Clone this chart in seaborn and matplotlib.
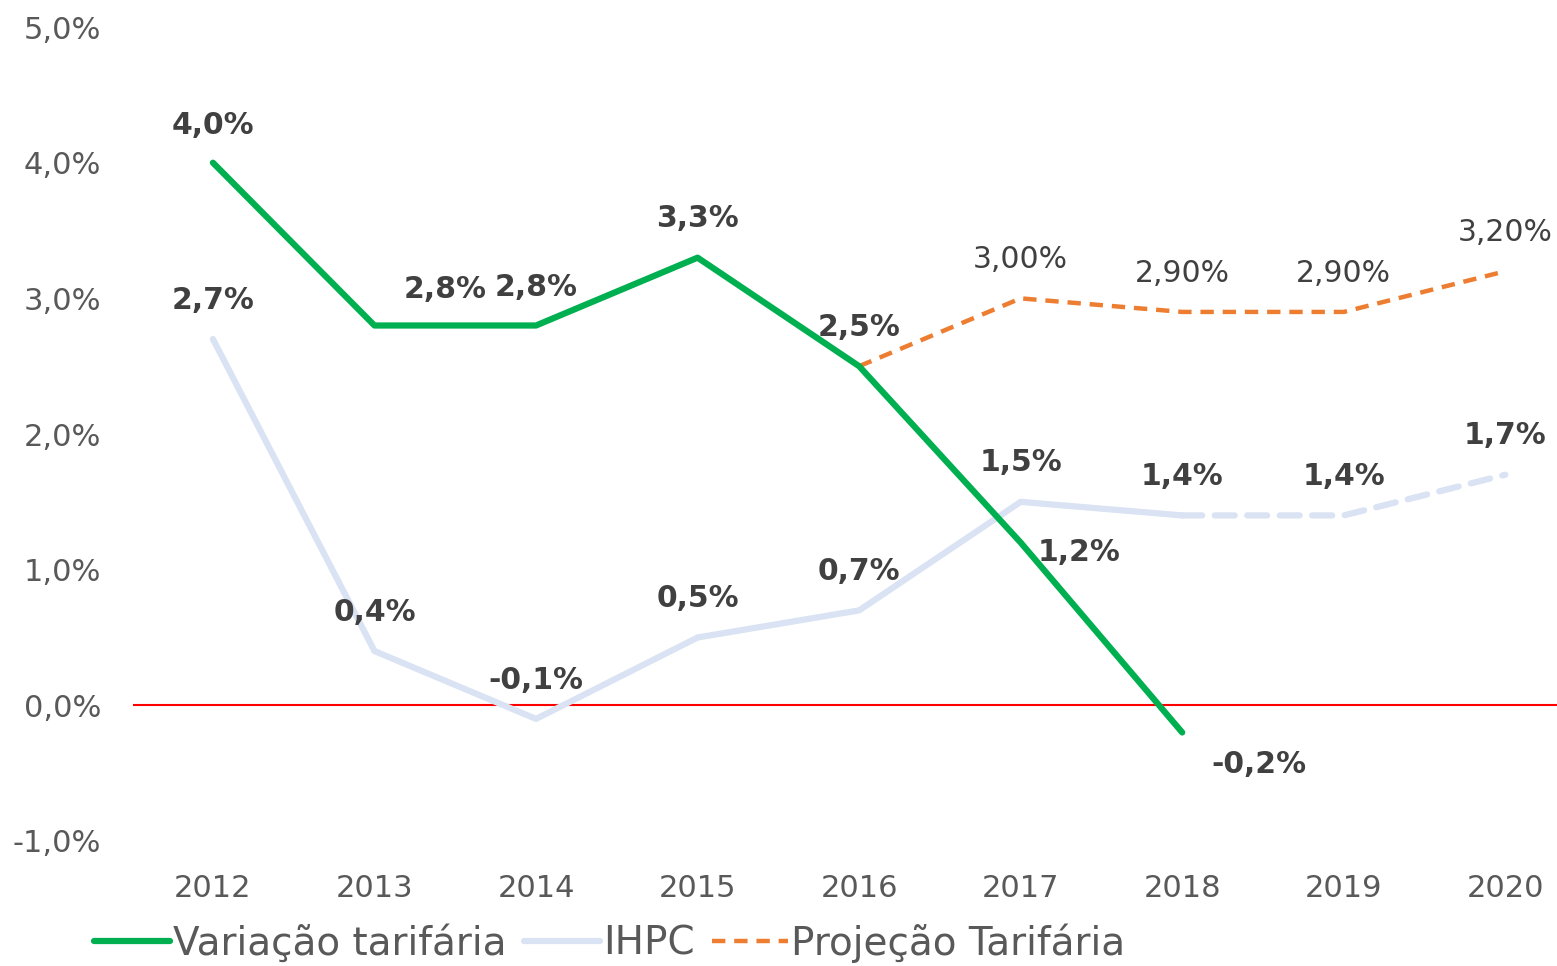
import matplotlib
matplotlib.use("Agg")
import matplotlib.pyplot as plt
import seaborn as sns
import pandas as pd
from matplotlib.lines import Line2D

# data
anos = [2012, 2013, 2014, 2015, 2016, 2017, 2018, 2019, 2020]
variacao = [4.0, 2.8, 2.8, 3.3, 2.5, 1.2, -0.2]            # 2012-2018
ihpc = [2.7, 0.4, -0.1, 0.5, 0.7, 1.5, 1.4, 1.4, 1.7]      # 2019-2020 are projected
projecao_anos = [2016, 2017, 2018, 2019, 2020]
projecao = [2.5, 3.00, 2.90, 2.90, 3.20]
y_ticks = [-1, 0, 1, 2, 3, 4, 5]

verde = "#00B050"
azul_claro = "#DAE3F3"
laranja = "#ED7D31"
texto = "#404040"
eixo = "#595959"

sns.set_style("white")
plt.rcParams["font.family"] = ["DejaVu Sans"]

df_var = pd.DataFrame({"x": list(range(len(variacao))), "y": variacao})
df_ihpc = pd.DataFrame({"x": list(range(len(ihpc))), "y": ihpc})
df_proj = pd.DataFrame({"x": [anos.index(a) for a in projecao_anos], "y": projecao})

fig = plt.figure(figsize=(15.57, 9.66), dpi=100)
ax = fig.add_axes([0.0854, 0.1294, 0.9146, 0.8426])

ax.axhline(0, color="red", lw=1.5, zorder=1)

# IHPC: solid up to 2018, dashed projection afterwards
sns.lineplot(data=df_ihpc.iloc[:7], x="x", y="y", ax=ax, color=azul_claro,
             lw=4.5, zorder=2)
sns.lineplot(data=df_ihpc.iloc[6:], x="x", y="y", ax=ax, color=azul_claro,
             lw=4.5, zorder=2)
ax.lines[-1].set_linestyle((0, (3.2, 2.0)))
ax.lines[-1].set_dash_capstyle("round")

sns.lineplot(data=df_proj, x="x", y="y", ax=ax, color=laranja, lw=3.2, zorder=3)
ax.lines[-1].set_linestyle((0, (3.0, 2.0)))
sns.lineplot(data=df_var, x="x", y="y", ax=ax, color=verde, lw=4.5, zorder=4)


def fmt(v, casas=1):
    return f"{v:.{casas}f}%".replace(".", ",")


# label offsets in points (dx, dy)
off_var = [(0, 27), (51, 26), (0, 27), (0, 28), (0, 28), (42, -7), (55, -23)]
for i, (v, o) in enumerate(zip(variacao, off_var)):
    ax.annotate(fmt(v), (i, v), xytext=o, textcoords="offset points",
                ha="center", va="center", fontsize=21.5, fontweight="bold",
                color=texto, zorder=6)

for i, v in enumerate(ihpc):
    ax.annotate(fmt(v), (i, v), xytext=(0, 28), textcoords="offset points",
                ha="center", va="center", fontsize=21.5, fontweight="bold",
                color=texto, zorder=6)

for a, v in zip(projecao_anos[1:], projecao[1:]):
    ax.annotate(fmt(v, 2), (anos.index(a), v), xytext=(0, 28),
                textcoords="offset points", ha="center", va="center",
                fontsize=21.5, color=texto, zorder=6)

ax.set_xlim(-0.495, 8.32)
ax.set_ylim(-1, 5)
ax.set_xticks(range(len(anos)))
ax.set_xticklabels([str(a) for a in anos])
ax.set_yticks(y_ticks)
ax.set_yticklabels([fmt(t) for t in y_ticks])
ax.tick_params(axis="both", length=0, labelsize=22, labelcolor=eixo)
ax.tick_params(axis="x", pad=24)
ax.tick_params(axis="y", pad=23)
ax.set_xlabel("")
ax.set_ylabel("")
sns.despine(ax=ax, left=True, bottom=True)

handles = [
    Line2D([], [], color=verde, lw=4.5),
    Line2D([], [], color=azul_claro, lw=4.5),
    Line2D([], [], color=laranja, lw=3.2, linestyle=(0, (3.0, 2.0))),
]
fig.legend(handles, ["Variação tarifária", "IHPC", "Projeção Tarifária"],
           loc="center", bbox_to_anchor=(0.3915, 0.024), ncol=3, frameon=False,
           fontsize=28, handlelength=1.95, handletextpad=0.08,
           columnspacing=0.45, labelcolor=eixo)

fig.savefig("out.png", dpi=100)
